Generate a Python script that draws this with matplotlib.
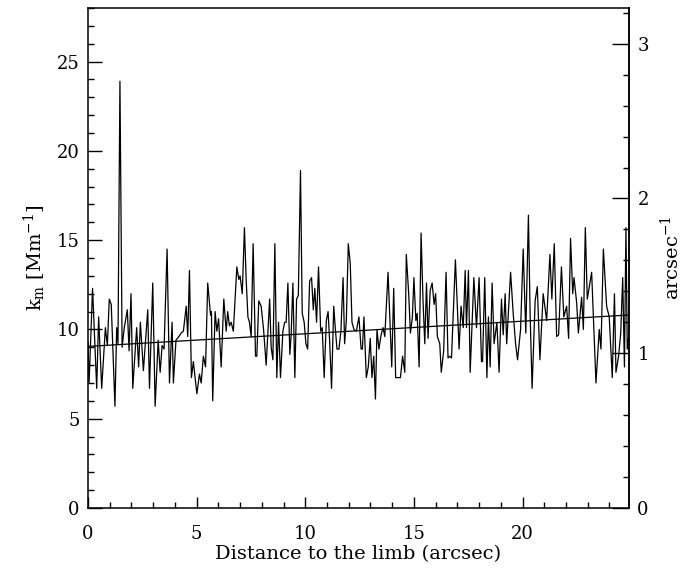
import numpy as np
import matplotlib
matplotlib.use('Agg')
import matplotlib.pyplot as plt
from matplotlib.ticker import MultipleLocator, FixedLocator

plt.rcParams['font.family'] = ['DejaVu Serif']
plt.rcParams['mathtext.fontset'] = 'dejavuserif'

# distance to the limb (arcsec)
distance = [
    0.00, 0.05, 0.21, 0.40, 0.49, 0.63, 0.80, 0.89, 0.98, 1.07, 1.24, 1.32, 1.38, 1.47, 1.57,
    1.67, 1.81, 1.89, 1.98, 2.06, 2.24, 2.33, 2.41, 2.55, 2.75, 2.83, 2.98, 3.09, 3.23, 3.32,
    3.41, 3.50, 3.64, 3.75, 3.87, 3.93, 4.05,
    4.18, 4.29, 4.39, 4.52, 4.59, 4.67, 4.76, 4.85, 5.01, 5.13, 5.21, 5.31, 5.41, 5.51, 5.64,
    5.68, 5.74, 5.85, 5.93, 6.01, 6.13, 6.25, 6.36, 6.43, 6.51, 6.59, 6.69, 6.85, 6.94, 7.00,
    7.10, 7.20, 7.28, 7.36, 7.43, 7.51, 7.60, 7.71, 7.77, 7.86, 7.97, 8.08, 8.20,
    8.36, 8.43, 8.51, 8.60, 8.69, 8.77, 8.86, 8.97, 9.05, 9.12, 9.20, 9.29, 9.35, 9.43, 9.52,
    9.60, 9.68, 9.78, 9.86, 9.95, 10.03, 10.11, 10.20, 10.29, 10.37, 10.44, 10.52, 10.61,
    10.71, 10.78, 10.87, 10.97, 11.05, 11.12, 11.21, 11.31, 11.38, 11.46, 11.55, 11.64, 11.74,
    11.81, 11.89, 11.98, 12.07, 12.15, 12.24, 12.35,
    12.47, 12.57, 12.63, 12.70, 12.81, 12.90, 12.99, 13.07, 13.15, 13.23, 13.30, 13.39, 13.49,
    13.58, 13.66, 13.81, 13.98, 14.07, 14.16, 14.25, 14.38, 14.48, 14.58, 14.65, 14.76, 14.84,
    14.93, 15.00, 15.09, 15.15, 15.24, 15.33, 15.42, 15.50, 15.58, 15.65, 15.75, 15.84, 15.93,
    16.00, 16.08, 16.19, 16.26, 16.37, 16.48,
    16.57, 16.65, 16.73, 16.91, 17.08, 17.17, 17.27, 17.36, 17.42, 17.51, 17.59, 17.76, 17.88,
    18.00, 18.11, 18.16, 18.26, 18.36, 18.43, 18.51, 18.60, 18.69, 18.82, 18.92, 19.03, 19.11,
    19.20, 19.27, 19.45, 19.57, 19.68, 19.77, 19.91, 20.03, 20.15, 20.27, 20.35, 20.44, 20.58,
    20.68,
    20.80, 20.95, 21.11, 21.26, 21.35, 21.46, 21.57, 21.66, 21.79, 21.90, 22.03, 22.12, 22.21,
    22.31, 22.37, 22.49, 22.57, 22.72, 22.80, 22.89, 22.98, 23.18, 23.38, 23.53, 23.61, 23.72,
    23.87, 23.99, 24.13, 24.23, 24.30, 24.42, 24.52, 24.61, 24.69, 24.76, 24.82, 24.88,
]

# k_m values (Mm^-1)
km = [
    9.3, 7.0, 12.3, 6.7, 10.7, 6.7, 10.1, 9.1, 11.7, 11.4, 5.7, 10.1, 9.2, 23.9, 9.0,
    10.1, 11.1, 8.8, 12.0, 6.7, 10.1, 7.9, 10.4, 7.7, 11.1, 6.7, 12.6, 5.7, 9.4, 7.6,
    9.1, 8.9, 14.5, 7.0, 10.4, 7.0, 9.4,
    9.6, 9.8, 9.9, 11.3, 9.6, 13.3, 7.3, 8.2, 6.4, 7.5, 7.0, 8.5, 7.9, 12.6, 10.8,
    11.0, 6.0, 11.0, 9.9, 10.6, 7.9, 11.7, 9.9, 11.0, 10.2, 10.4, 9.9, 13.5, 12.8, 13.0,
    12.0, 15.7, 12.8, 10.7, 10.4, 9.6, 14.8, 8.5, 8.5, 11.6, 11.3, 10.0, 8.0,
    11.7, 9.0, 8.3, 14.8, 7.3, 10.4, 7.3, 9.9, 10.4, 10.4, 12.6, 8.6, 9.7, 12.6, 7.3,
    11.7, 11.9, 18.9, 10.9, 10.4, 9.2, 8.9, 12.7, 12.9, 11.1, 12.3, 10.4, 13.5,
    9.9, 10.1, 7.3, 10.5, 11.0, 9.4, 6.7, 11.3, 10.1, 8.9, 8.9, 9.9, 12.9,
    9.2, 10.5, 14.8, 13.7, 10.4, 10.0, 9.9,
    10.7, 8.9, 8.9, 10.7, 7.3, 7.9, 9.5, 7.3, 8.5, 6.1, 10.0, 8.9, 9.7,
    10.1, 9.6, 13.2, 7.9, 12.3, 7.3, 7.3, 7.3, 8.5, 7.6, 14.2, 12.0, 9.8,
    10.7, 12.9, 10.5, 10.9, 7.9, 15.4, 11.6, 9.2, 12.6, 9.5, 12.2, 12.6, 11.4,
    12.0, 9.6, 9.2, 7.6, 8.8, 13.2,
    8.4, 8.5, 8.4, 13.9, 8.9, 11.3, 10.1, 13.3, 10.1, 13.3, 7.6, 12.9, 10.1,
    12.9, 8.2, 8.2, 12.9, 7.3, 10.7, 7.9, 12.6, 9.2, 10.4, 7.6, 11.7, 9.7,
    12.0, 9.2, 13.2, 10.9, 9.2, 8.3, 10.0, 14.5, 9.8, 16.4, 10.8, 6.7, 11.6,
    12.4,
    8.3, 12.0, 10.5, 14.2, 11.7, 14.8, 9.6, 9.7, 13.5, 10.7, 11.3, 9.5, 15.1,
    12.0, 12.9, 11.5, 9.8, 11.8, 10.0, 15.7, 11.7, 13.2, 7.0, 10.0, 8.9, 14.5,
    11.3, 10.7, 7.3, 12.0, 7.6, 8.5, 9.8, 12.9, 7.9, 15.7, 8.9, 9.5,
]

# linear fit drawn over the data
fit_intercept = 9.05
fit_slope = 0.0706

# Mm^-1 -> arcsec^-1  (k = 2*pi/lambda, 1 arcsec = 0.725 Mm)
to_arcsec = 0.725 / (2 * np.pi)

x_max = 24.9
y_max = 28.0
x_ticks = [0, 5, 10, 15, 20]
y_ticks = [0, 5, 10, 15, 20, 25]
right_ticks = [0, 1, 2, 3]

fig = plt.figure(figsize=(6.91, 5.78), dpi=100)
ax = fig.add_axes([88 / 691, 1 - 508 / 578, (629 - 88) / 691, 500 / 578])

ax.plot(distance, km, color='black', lw=0.9)
xf = np.array([0, x_max])
ax.plot(xf, fit_intercept + fit_slope * xf, color='black', lw=0.9)

ax.set_xlim(0, x_max)
ax.set_ylim(0, y_max)

ax.xaxis.set_major_locator(FixedLocator(x_ticks))
ax.xaxis.set_minor_locator(MultipleLocator(1))
ax.yaxis.set_major_locator(FixedLocator(y_ticks))
ax.yaxis.set_minor_locator(MultipleLocator(1))
ax.tick_params(which='both', direction='in', top=False, right=False,
               labelsize=13, width=1.0)
ax.tick_params(axis='x', which='major', length=8, pad=12)
ax.tick_params(axis='x', which='minor', length=4)
ax.tick_params(axis='y', which='major', length=10, pad=6)
ax.tick_params(axis='y', which='minor', length=4)
for s in ax.spines.values():
    s.set_linewidth(1.1)

ax.set_xlabel('Distance to the limb (arcsec)', fontsize=14, labelpad=2)
ax.set_ylabel(r'k$_\mathrm{m}$ [Mm$^{-1}$]', fontsize=14, labelpad=6)

sec = ax.secondary_yaxis('right', functions=(lambda v: v * to_arcsec,
                                             lambda v: v / to_arcsec))
sec.yaxis.set_major_locator(FixedLocator(right_ticks))
sec.yaxis.set_minor_locator(MultipleLocator(0.2))
sec.tick_params(which='both', direction='in', labelsize=13, width=1.0)
sec.tick_params(which='major', length=12, pad=6)
sec.tick_params(which='minor', length=4)
sec.spines['right'].set_linewidth(1.1)
sec.set_ylabel(r'arcsec$^{-1}$', fontsize=14, labelpad=8)

fig.savefig('out.png', dpi=100)
